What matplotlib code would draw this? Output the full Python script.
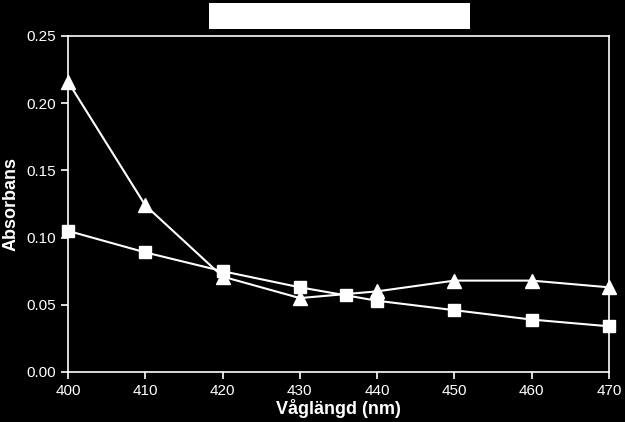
import matplotlib
matplotlib.use("Agg")
import matplotlib.pyplot as plt
from matplotlib.patches import Rectangle

# data
wl_tri = [400, 410, 420, 430, 440, 450, 460, 470]
abs_tri = [0.216, 0.124, 0.071, 0.055, 0.060, 0.068, 0.068, 0.063]
wl_sq = [400, 410, 420, 430, 436, 440, 450, 460, 470]
abs_sq = [0.105, 0.089, 0.075, 0.063, 0.057, 0.053, 0.046, 0.039, 0.034]

xticks = [400, 410, 420, 430, 440, 450, 460, 470]
yticks = [0.00, 0.05, 0.10, 0.15, 0.20, 0.25]

plt.rcParams['font.family'] = ['Liberation Sans', 'DejaVu Sans']

fig = plt.figure(figsize=(6.25, 4.22), dpi=100, facecolor='black')
ax = fig.add_axes([0.1088, 0.1185, 0.8656, 0.7962], facecolor='black')

ax.plot(wl_tri, abs_tri, color='white', lw=1.5, marker='^', markersize=10,
        clip_on=False, zorder=3)
ax.plot(wl_sq, abs_sq, color='white', lw=1.5, marker='s', markersize=9,
        clip_on=False, zorder=3)

ax.set_xlim(400, 470)
ax.set_ylim(0, 0.25)
ax.set_xticks(xticks)
ax.set_yticks(yticks)
ax.set_yticklabels([f"{v:.2f}" for v in yticks])

for s in ax.spines.values():
    s.set_color('white')
    s.set_linewidth(1.2)
ax.tick_params(colors='white', labelsize=11, direction='out', length=5, width=1.2)

ax.set_xlabel('Våglängd (nm)', color='white', fontsize=13, fontweight='bold', labelpad=1)
ax.set_ylabel('Absorbans', color='white', fontsize=13, fontweight='bold', labelpad=5)

# empty white title box
fig.patches.append(Rectangle((0.334, 0.931), 0.418, 0.062, transform=fig.transFigure,
                             facecolor='white', edgecolor='none'))

fig.savefig('out.png', dpi=100, facecolor='black')
